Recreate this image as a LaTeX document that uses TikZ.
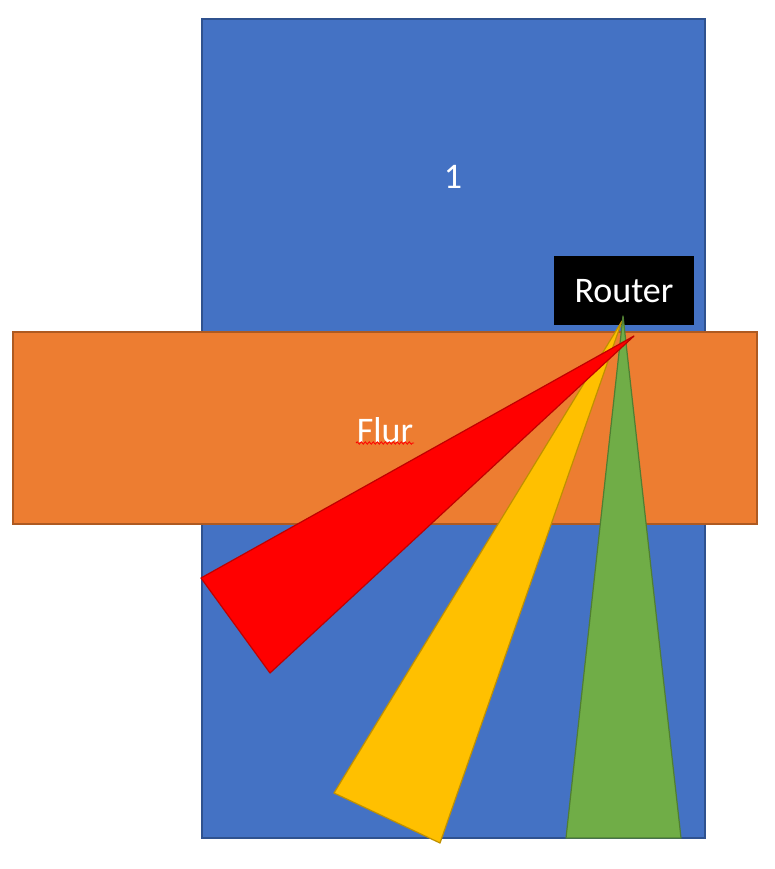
\documentclass[tikz,border=0pt]{standalone}
\usepackage{fontspec}
\setmainfont{Carlito}
\usetikzlibrary{decorations.pathmorphing}
\definecolor{roomblue}{HTML}{4472C4}
\definecolor{roomblueedge}{HTML}{2F528F}
\definecolor{flurorange}{HTML}{ED7D31}
\definecolor{flurorangeedge}{HTML}{AE5A21}
\definecolor{beamred}{HTML}{FF0000}
\definecolor{beamrededge}{HTML}{C00000}
\definecolor{beamyellow}{HTML}{FFC000}
\definecolor{beamyellowedge}{HTML}{BF9000}
\definecolor{beamgreen}{HTML}{70AD47}
\definecolor{beamgreenedge}{HTML}{507E32}
\tikzset{
  label text/.style={text=white, font=\fontsize{36}{43}\selectfont, inner sep=0pt},
  area/.style={line width=1.2pt},
  beam/.style={line width=1.2pt, line join=round}
}
\begin{document}
\begin{tikzpicture}[x=1pt,y=-1pt]
\useasboundingbox (0,0) rectangle (774,869);
% room 1
\draw[area, fill=roomblue, draw=roomblueedge] (202,19) rectangle (705,838);
\node[label text] (room) at (453,177) {1};
% router
\fill[black] (554,256) rectangle (694,325);
\node[label text] (router) at (624,291) {Router};
% corridor
\draw[area, fill=flurorange, draw=flurorangeedge] (13,332) rectangle (757,524);
\node[label text] (flur) at (385,430) {Flur};
\draw[beamred, line width=0.8pt, decorate, decoration={snake, amplitude=1.2pt, segment length=4pt}] (356,443) -- (414,443);
% beams
\draw[beam, fill=beamyellow, draw=beamyellowedge] (622,321) -- (334,793) -- (440,843) -- cycle;
\draw[beam, fill=beamgreen, draw=beamgreenedge] (623,316) -- (566,838) -- (681,838) -- cycle;
\draw[beam, fill=beamred, draw=beamrededge] (634,336) -- (201,578) -- (270,673) -- cycle;
\end{tikzpicture}
\end{document}
